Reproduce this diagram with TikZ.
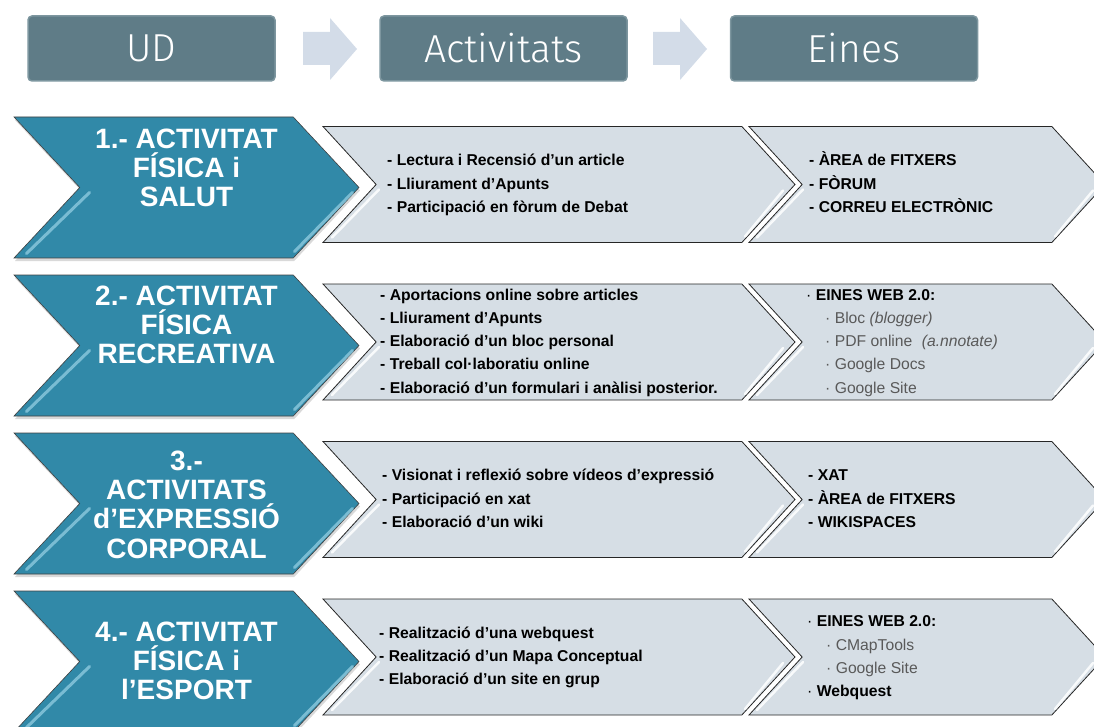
\documentclass[tikz,border=0pt]{standalone}
\usepackage{fontspec}
\setmainfont{Liberation Sans}
\newfontfamily\hdrfont{Fira Sans Light}
\usetikzlibrary{shapes.symbols,positioning,shadows}
\definecolor{hdrfill}{HTML}{5F7C87}
\definecolor{hdredge}{HTML}{7D969F}
\definecolor{arrowfill}{HTML}{D3DCE8}
\definecolor{udfill}{HTML}{3189A8}
\definecolor{udglow}{HTML}{9AD3E6}
\definecolor{actfill}{HTML}{D6DEE5}
\definecolor{greytext}{HTML}{595959}
\newcommand{\tightlines}{\lineskiplimit-20pt\relax}

\begin{document}
\begin{tikzpicture}[x=1pt,y=-1pt]
\tikzstyle{headbox}=[rounded corners=4pt, fill=hdrfill, draw=hdredge, line width=1.5pt,
minimum width=247pt, minimum height=65pt, inner sep=0pt,
text=white, font=\hdrfont\fontsize{39}{39}\selectfont]
\tikzstyle{udchev}=[signal, signal from=west, signal to=east, signal pointer angle=94,
fill=udfill, draw=black!75, line width=0.6pt, inner sep=0pt,
minimum width=345pt, minimum height=141pt, node distance=158pt,
drop shadow={shadow xshift=1pt, shadow yshift=-3pt, opacity=0.3}]
\tikzstyle{actchev}=[signal, signal from=west, signal to=east, signal pointer angle=95,
fill=actfill, draw=black!85, line width=0.8pt, inner sep=0pt,
minimum height=116pt, node distance=157.5pt]
\tikzstyle{udtext}=[align=center, inner sep=0pt, text=white,
font=\bfseries\fontsize{28}{29.2}\selectfont\tightlines]
\tikzstyle{actlist}=[align=left, anchor=west, inner sep=0pt,
font=\bfseries\fontsize{15.7}{23.2}\selectfont\tightlines]
\tikzstyle{glow}=[udglow, line width=3pt, line cap=round, opacity=0.7]
\tikzstyle{shine}=[white, line width=2.5pt, line cap=round, opacity=0.85]

\useasboundingbox (0,0) rectangle (1094,727);

% header row
\node[headbox] at (151.5,48.5) (ud) {UD};
\node[headbox] at (503.5,48.5) (act) {Activitats};
\node[headbox] at (854,48.5) (eines) {Eines};
\foreach \ax in {303,653}
  \fill[arrowfill] (\ax,32) -- ++(27,0) -- ++(0,-14) -- ++(27,31)
    -- ++(-27,31) -- ++(0,-15) -- ++(-27,0) -- cycle;

% UD chevrons
\node[udchev] at (186.5,187.5) (u1) {};
\node[udchev,below of =u1] (u2) {};
\node[udchev,below of =u2] (u3) {};
\node[udchev,below of =u3] (u4) {};

% activitats chevrons
\node[actchev,minimum width=472pt] at (559,184.5) (a1) {};
\node[actchev,minimum width=472pt,below of =a1] (a2) {};
\node[actchev,minimum width=472pt,below of =a2] (a3) {};
\node[actchev,minimum width=472pt,below of =a3] (a4) {};

% eines chevrons
\node[actchev,minimum width=356pt,right of =a1,node distance=368pt] (e1) {};
\node[actchev,minimum width=356pt,right of =a2,node distance=368pt] (e2) {};
\node[actchev,minimum width=356pt,right of =a3,node distance=368pt] (e3) {};
\node[actchev,minimum width=356pt,right of =a4,node distance=368pt] (e4) {};

\foreach \r in {1,...,4} {
  \draw[glow] ([shift={(-97,5)}]u\r.center) -- ([shift={(-160,66)}]u\r.center);
  \draw[glow] ([shift={(166,5)}]u\r.center) -- ([shift={(108,64)}]u\r.center);
  \draw[shine] ([shift={(-180,5)}]a\r.center) -- ([shift={(-227,53)}]a\r.center);
  \draw[shine] ([shift={(224,6)}]a\r.center) -- ([shift={(186,52)}]a\r.center);
  \draw[shine] ([shift={(-124,5)}]e\r.center) -- ([shift={(-170,53)}]e\r.center);
  \draw[shine] ([shift={(166,6)}]e\r.center) -- ([shift={(128,52)}]e\r.center);
}

% UD texts
\node[udtext,yshift=16pt] at (u1.center) (t1) {\strut 1.- ACTIVITAT\\FÍSICA i\\SALUT\strut};
\node[udtext,yshift=17pt] at (u2.center) (t2) {\strut 2.- ACTIVITAT\\FÍSICA\\RECREATIVA\strut};
\node[udtext,yshift=-5pt] at (u3.center) (t3) {\strut 3.-\\ACTIVITATS\\d’EXPRESSIÓ\\CORPORAL\strut};
\node[udtext,yshift=-3pt] at (u4.center) (t4) {\strut 4.- ACTIVITAT\\FÍSICA i\\l’ESPORT\strut};

% activitats lists
\node[actlist,xshift=-172pt] at (a1.center) (l1) {\strut- Lectura i Recensió d’un article\\
- Lliurament d’Apunts\\- Participació en fòrum de Debat\strut};
\node[actlist,xshift=-179pt] at (a2.center) (l2) {\strut- Aportacions online sobre articles\\
- Lliurament d’Apunts\\- Elaboració d’un bloc personal\\- Treball col·laboratiu online\\
- Elaboració d’un formulari i anàlisi posterior.\strut};
\node[actlist,xshift=-177pt] at (a3.center) (l3) {\strut- Visionat i reflexió sobre vídeos d’expressió\\
- Participació en xat\\- Elaboració d’un wiki\strut};
\node[actlist,xshift=-180pt] at (a4.center) (l4) {\strut- Realització d’una webquest\\
- Realització d’un Mapa Conceptual\\- Elaboració d’un site en grup\strut};

% eines lists
\node[actlist,xshift=-118pt] at (e1.center) (r1) {\strut- ÀREA de FITXERS\\- FÒRUM\\- CORREU ELECTRÒNIC\strut};
\node[actlist,xshift=-121pt] at (e2.center) (r2) {\strut{\mdseries·} EINES WEB 2.0:\\
\hspace*{19pt}{\mdseries\color{greytext}· Bloc \textit{(blogger)}}\\
\hspace*{19pt}{\mdseries\color{greytext}· PDF online\hspace{5pt} \textit{(a.nnotate)}}\\
\hspace*{19pt}{\mdseries\color{greytext}· Google Docs}\\
\hspace*{19pt}{\mdseries\color{greytext}· Google Site}\strut};
\node[actlist,xshift=-119pt] at (e3.center) (r3) {\strut- XAT\\- ÀREA de FITXERS\\- WIKISPACES\strut};
\node[actlist,xshift=-120pt] at (e4.center) (r4) {\strut{\mdseries·} EINES WEB 2.0:\\
\hspace*{19pt}{\mdseries\color{greytext}· CMapTools}\\
\hspace*{19pt}{\mdseries\color{greytext}· Google Site}\\
{\mdseries·} Webquest\strut};

\end{tikzpicture}
\end{document}
